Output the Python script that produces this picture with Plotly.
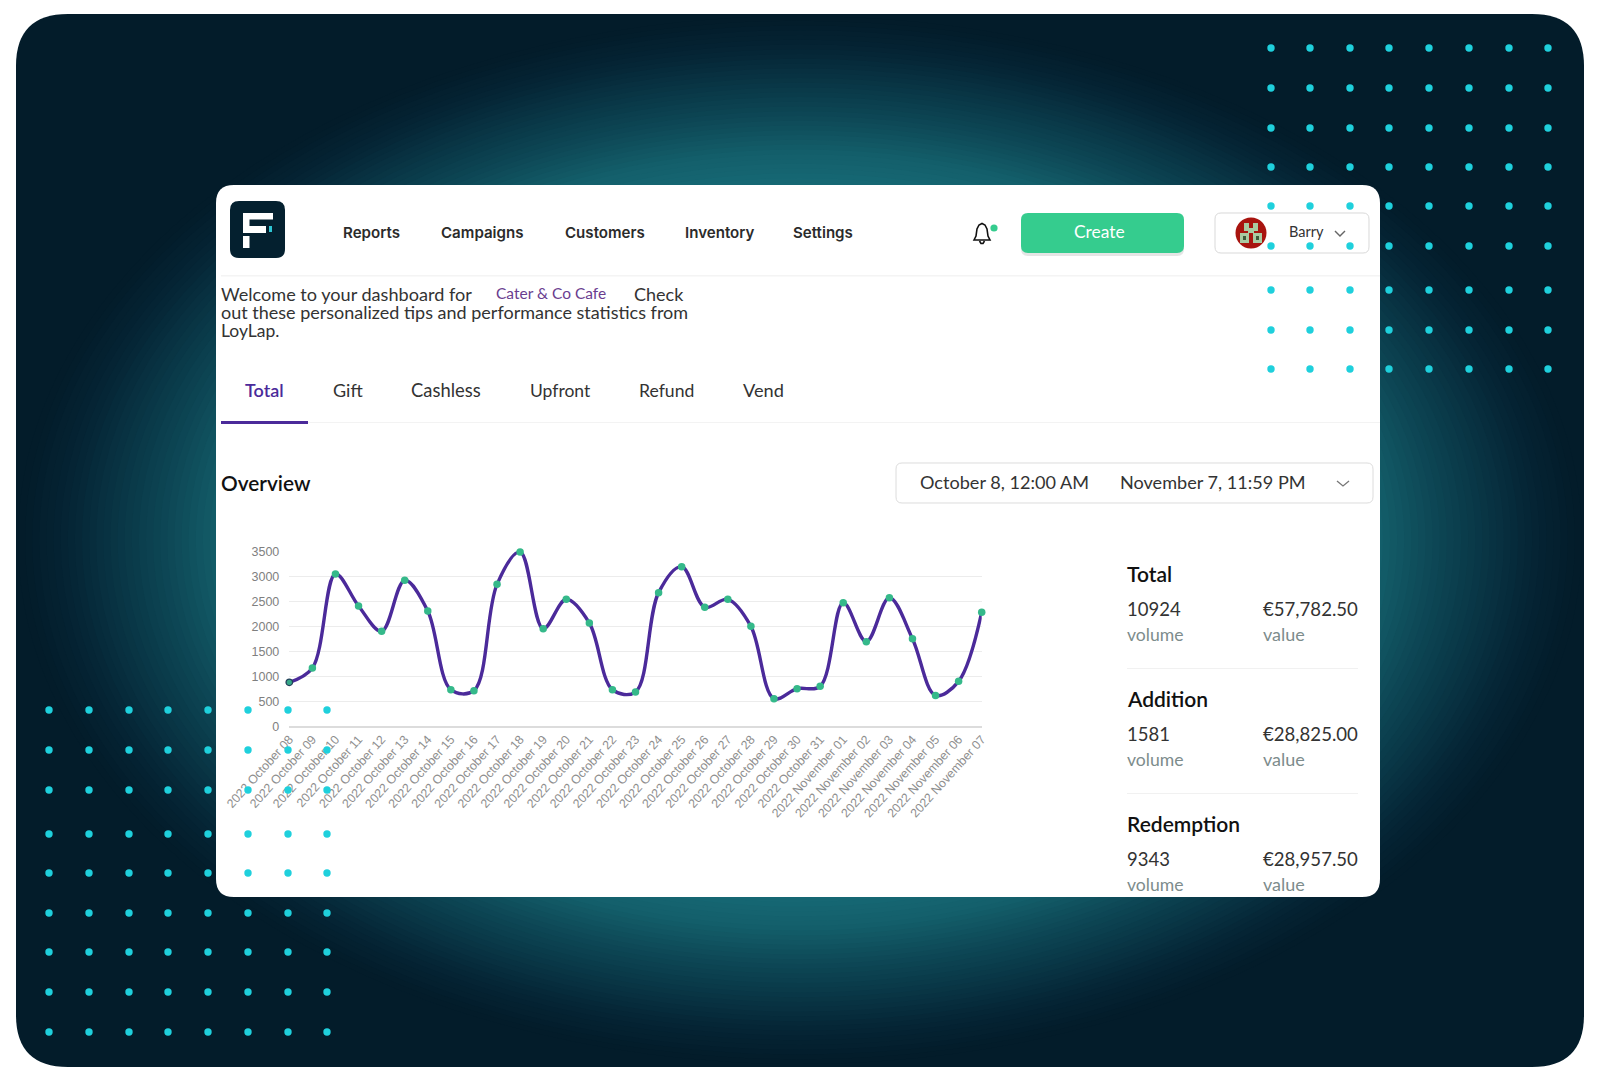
import plotly.graph_objects as go

W, H = 1600, 1080

# ---- data ----
categories = ["2022 October 08","2022 October 09","2022 October 10","2022 October 11","2022 October 12",
 "2022 October 13","2022 October 14","2022 October 15","2022 October 16","2022 October 17","2022 October 18",
 "2022 October 19","2022 October 20","2022 October 21","2022 October 22","2022 October 23","2022 October 24",
 "2022 October 25","2022 October 26","2022 October 27","2022 October 28","2022 October 29","2022 October 30",
 "2022 October 31","2022 November 01","2022 November 02","2022 November 03","2022 November 04",
 "2022 November 05","2022 November 06","2022 November 07"]
values = [885,1171,3047,2409,1903,2921,2309,739,719,2841,3487,1956,2542,2069,739,692,2675,3194,2382,2542,
          2003,559,759,805,2475,1697,2575,1757,625,905,2282]
y_ticks = [0,500,1000,1500,2000,2500,3000,3500]
nav_labels = ["Reports","Campaigns","Customers","Inventory","Settings"]
tab_labels = ["Total","Gift","Cashless","Upfront","Refund","Vend"]
stat_names = ["Total","Addition","Redemption"]
stat_volumes = ["10924","1581","9343"]
stat_values = ["€57,782.50","€28,825.00","€28,957.50"]

# decorative dot grids, page pixels
tr_x = [1271,1310,1350,1389,1429,1469,1509,1548]
tr_y = [48,88,128,167,206,246,290,330,369]
bl_x = [49,89,129,168,208,248,288,327]
bl_y = [710,750,790,834,873,913,952,992,1032]

def px(x): return x / W
def py(y): return 1 - y / H

def rr(x0, y0, x1, y1, r):
    p = [(x0+r,y0),(x1-r,y0),(x1,y0),(x1,y0+r),(x1,y1-r),(x1,y1),(x1-r,y1),(x0+r,y1),(x0,y1),(x0,y1-r),(x0,y0+r),(x0,y0),(x0+r,y0)]
    f = lambda q: f"{px(q[0]):.5f},{py(q[1]):.5f}"
    return (f"M{f(p[0])} L{f(p[1])} Q{f(p[2])} {f(p[3])} L{f(p[4])} Q{f(p[5])} {f(p[6])} "
            f"L{f(p[7])} Q{f(p[8])} {f(p[9])} L{f(p[10])} Q{f(p[11])} {f(p[12])} Z")

def poly(points, close=False):
    s = "M" + " L".join(f"{px(a):.5f},{py(b):.5f}" for a, b in points)
    return s + (" Z" if close else "")

shapes = []
def add_path(path, fill=None, line=None, lw=1, opacity=None):
    d = dict(type="path", xref="paper", yref="paper", path=path, layer="below",
             line=dict(color=line or "rgba(0,0,0,0)", width=lw if line else 0))
    if fill: d["fillcolor"] = fill
    if opacity is not None: d["opacity"] = opacity
    shapes.append(d)
def add_rect(x0, y0, x1, y1, fill, opacity=None):
    d = dict(type="rect", xref="paper", yref="paper", x0=px(x0), x1=px(x1), y0=py(y0), y1=py(y1),
             fillcolor=fill, line=dict(width=0), layer="below")
    if opacity is not None: d["opacity"] = opacity
    shapes.append(d)
def add_circle(cx, cy, rx, ry, fill):
    shapes.append(dict(type="circle", xref="paper", yref="paper", x0=px(cx-rx), x1=px(cx+rx),
                       y0=py(cy+ry), y1=py(cy-ry), fillcolor=fill, line=dict(width=0), layer="below"))

# page + dark panel
add_path(rr(16, 14, 1584, 1067, 52), fill="#031c2a")

# radial glow made of concentric ellipses
stops = [(1.0,(3,28,42)),(0.946,(5,36,52)),(0.90,(8,48,64)),(0.85,(11,62,77)),(0.80,(15,76,90)),
         (0.74,(20,96,108)),(0.675,(23,106,118)),(0.0,(26,115,127))]
N = 110
for i in range(N):
    t = 1 - i / N
    if t < 0.55:
        break
    for (a, ca), (b, cb) in zip(stops, stops[1:]):
        if b <= t <= a:
            u = (a - t) / (a - b)
            c = tuple(int(ca[k] + (cb[k]-ca[k]) * u) for k in range(3))
            break
    add_circle(800, 540, 782*t, 524*t, f"rgb({c[0]},{c[1]},{c[2]})")

# card
add_path(rr(216, 185, 1380, 897, 18), fill="#ffffff")
add_rect(221, 275, 1380, 276.5, "#f4f4f4")
add_rect(221, 422, 1380, 423, "#f3f3f3")
add_rect(221, 421, 308, 424, "#4b2a9a")
# logo
add_path(rr(230, 201, 285, 258, 9), fill="#04202f")
add_rect(243, 213, 273, 219.5, "#ffffff")
add_rect(243, 213, 249.5, 233, "#ffffff")
add_rect(243, 226, 266, 233, "#ffffff")
add_rect(243, 236, 249.5, 248, "#ffffff")
add_rect(269, 226, 272, 232, "#2ec5d3")
# bell
bell = [(974,240),(976,236),(977,229),(979,225),(982,223.5),(985,225),(987,229),(988,236),(990,240)]
add_path(poly(bell, True), line="#111111", lw=1.6)
add_path(poly([(979.5,241),(981,243.5),(983,243.5),(984.5,241)]), line="#111111", lw=1.6)
add_circle(994, 228, 3.6, 3.6, "#35cc8e")
# create button
add_path(rr(1021, 215, 1184, 256, 7), fill="#888888", opacity=0.22)
add_path(rr(1021, 213, 1184, 253, 7), fill="#35cc8e")
# user box
add_path(rr(1215, 213, 1369, 253, 6), fill="#ffffff", line="#d9d9d9", lw=1)
add_circle(1251, 233, 15.5, 15.5, "#a8140f")
for x0, y0, x1, y1 in [(1240,233,1249,243),(1253,233,1262,243),(1244,223,1249,231),(1253,223,1258,231),(1248,228,1254,233)]:
    add_rect(x0, y0, x1, y1, "#a9cba2")
for x0, y0, x1, y1 in [(1243,236,1246,240),(1256,236,1259,240)]:
    add_rect(x0, y0, x1, y1, "#3d5a3a")
add_path(poly([(1335,231),(1340,236),(1345,231)]), line="#666666", lw=1.4)
# date box
add_path(rr(896, 463, 1373, 503, 6), fill="#ffffff", line="#dcdcdc", lw=1)
add_path(poly([(1337,481),(1343,486),(1349,481)]), line="#777777", lw=1.3)
# stat separators
add_rect(1127, 668, 1358, 669, "#f1f1f1")
add_rect(1127, 793, 1358, 794, "#f1f1f1")

# ---- text ----
ann = []
def text(x, y, s, size=16, color="#222222", family="Lato", anchor="left", weight=None):
    f = dict(size=size, color=color, family=family)
    if weight: f["weight"] = weight
    ann.append(dict(xref="paper", yref="paper", x=px(x), y=py(y), text=s, showarrow=False,
                    xanchor=anchor, yanchor="middle", font=f, borderpad=0, borderwidth=0))

for s, x in zip(nav_labels, [343,441,565,685,793]):
    text(x, 232.5, s, 15.1, "#2b2b2b", "Inter", weight=600)
text(1074, 232, "Create", 17.4, "#ffffff", "Lato")
text(1289, 232, "Barry", 14.5, "#333333", "Lato")
text(221, 293.5, "Welcome to your dashboard for", 18.1, "#333333")
text(496, 293, "Cater &amp; Co Cafe", 15.5, "#6a3d8f")
text(634, 293.5, "Check", 18, "#333333")
text(221, 312, "out these personalized tips and performance statistics from", 18, "#333333")
text(221, 330.5, "LoyLap.", 17.5, "#333333")
for i, (s, x, z) in enumerate(zip(tab_labels, [245,333,411,530,639,743], [18,18,18.4,17.5,17.6,18.2])):
    text(x, 390, s, z, "#4b2a9a" if i == 0 else "#333333", weight=600 if i == 0 else None)
text(221, 482.5, "Overview", 20.8, "#111111", weight=600)
text(920, 482, "October 8, 12:00 AM", 18.1, "#333333")
text(1120, 482, "November 7, 11:59 PM", 18.1, "#333333")
for i, (n, v, e) in enumerate(zip(stat_names, stat_volumes, stat_values)):
    y0 = 574 + i * 125
    text(1127, y0 - 0.5, n, 21, "#111111", weight=600)
    text(1127, y0 + 34.5, v, 18.5, "#333333")
    text(1358, y0 + 34.5, e, 18.6, "#333333", anchor="right")
    text(1127, y0 + 60.5, "volume", 17.6, "#7d8c8c")
    text(1263, y0 + 60, "value", 18, "#7d8c8c")

# ---- figure ----
fig = go.Figure()
fig.add_trace(go.Scatter(x=categories, y=values, mode="lines", cliponaxis=False,
                         line=dict(color="#4b2a9a", width=3.4, shape="spline", smoothing=1.0),
                         xaxis="x", yaxis="y", showlegend=False, hoverinfo="skip"))
fig.add_trace(go.Scatter(x=categories[1:], y=values[1:], mode="markers", cliponaxis=False,
                         marker=dict(color="#35b98a", size=7.5), xaxis="x", yaxis="y", showlegend=False))
fig.add_trace(go.Scatter(x=categories[:1], y=values[:1], mode="markers", cliponaxis=False,
                         marker=dict(color="#35a888", size=6.5, line=dict(color="#24405a", width=1.3)),
                         xaxis="x", yaxis="y", showlegend=False))

dx, dy = [], []
for y in tr_y:
    for x in tr_x:
        dx.append(x); dy.append(y)
for y in bl_y:
    for x in bl_x:
        dx.append(x); dy.append(y)
fig.add_trace(go.Scatter(x=dx, y=dy, mode="markers", marker=dict(color="#1fd0dc", size=7.4),
                         xaxis="x2", yaxis="y2", showlegend=False, hoverinfo="skip"))

fig.update_layout(
    width=W, height=H, margin=dict(l=0, r=0, t=0, b=0, pad=0, autoexpand=False),
    paper_bgcolor="#ffffff", plot_bgcolor="rgba(0,0,0,0)", shapes=shapes, annotations=ann,
    font=dict(family="Liberation Sans"),
    xaxis=dict(domain=[px(289.3), px(981.7)], range=[0, 30], type="category",
               categoryorder="array", categoryarray=categories, tickangle=-48, tickmode="array",
               tickvals=categories, ticktext=categories, ticks="", showgrid=False, ticklabelstandoff=2,
               tickfont=dict(size=12.4, color="#8e8e8e"), showline=False, zeroline=False,
               anchor="y", automargin=False),
    yaxis=dict(domain=[py(726.7), py(551.3)], range=[0, 3500], tickvals=y_ticks, ticks="",
               gridcolor="#ececec", gridwidth=1.4, zeroline=True, zerolinecolor="#dcdcdc", zerolinewidth=1.6,
               ticklabelstandoff=9,
               tickfont=dict(size=12.5, color="#7f7f7f"), showline=False, anchor="x", automargin=False),
    xaxis2=dict(domain=[0, 1], range=[0, W], visible=False, anchor="y2", fixedrange=True),
    yaxis2=dict(domain=[0, 1], range=[H, 0], visible=False, anchor="x2", fixedrange=True),
)
fig.write_html("out.html", config={"displayModeBar": False},
               post_script="document.body.style.margin='0';document.body.style.overflow='hidden';")
